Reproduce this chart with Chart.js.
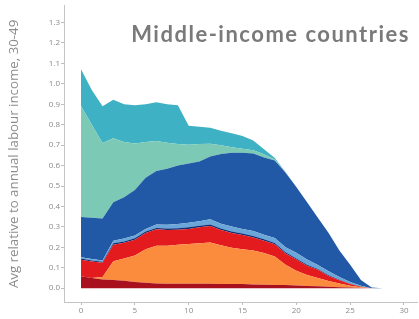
<!DOCTYPE html>
<html>
<head>
<meta charset="utf-8">
<script src="https://cdn.jsdelivr.net/npm/chart.js@4"></script>
<style>
  body { margin: 0; background: #fff; }
  #wrap { position: relative; width: 419px; height: 319px; }
</style>
</head>
<body>
<div id="wrap"><canvas id="income-chart" width="419" height="319"></canvas></div>
<script>
// age (years since start) and the stacked layers, bottom to top
const ages = [0, 1, 2, 3, 4, 5, 6, 7, 8, 9, 10, 11, 12, 13, 14, 15, 16, 17, 18, 19, 20, 21, 22, 23, 24, 25, 26, 27, 28, 29];

const darkRed   = [0.058, 0.05, 0.042, 0.04, 0.036, 0.03, 0.026, 0.023, 0.022, 0.022, 0.022, 0.022, 0.022, 0.021, 0.02, 0.02, 0.018, 0.017, 0.016, 0.015, 0.013, 0.011, 0.009, 0.007, 0.005, 0.003, 0.001, 0, 0, 0];
const orange    = [0, 0, 0.013, 0.092, 0.109, 0.13, 0.164, 0.185, 0.186, 0.19, 0.194, 0.198, 0.202, 0.189, 0.178, 0.17, 0.166, 0.155, 0.139, 0.1, 0.072, 0.054, 0.041, 0.028, 0.018, 0.009, 0.003, 0, 0, 0];
const red       = [0.081, 0.08, 0.069, 0.081, 0.077, 0.077, 0.08, 0.08, 0.077, 0.074, 0.074, 0.078, 0.08, 0.075, 0.072, 0.07, 0.064, 0.06, 0.06, 0.055, 0.055, 0.045, 0.04, 0.025, 0.016, 0.008, 0.003, 0, 0, 0];
const navy      = [0.006, 0.006, 0.005, 0.007, 0.007, 0.007, 0.007, 0.007, 0.007, 0.007, 0.008, 0.008, 0.008, 0.007, 0.007, 0.007, 0.007, 0.007, 0.006, 0.006, 0.005, 0.005, 0.004, 0.003, 0.002, 0.002, 0.001, 0, 0, 0];
const lightBlue = [0.006, 0.007, 0.006, 0.012, 0.014, 0.014, 0.013, 0.017, 0.018, 0.021, 0.022, 0.022, 0.025, 0.023, 0.025, 0.023, 0.025, 0.023, 0.024, 0.024, 0.028, 0.025, 0.019, 0.02, 0.014, 0.008, 0.004, 0, 0, 0];
const blue      = [0.197, 0.202, 0.206, 0.188, 0.202, 0.222, 0.25, 0.261, 0.275, 0.286, 0.29, 0.292, 0.308, 0.342, 0.361, 0.373, 0.379, 0.378, 0.38, 0.365, 0.322, 0.28, 0.232, 0.187, 0.129, 0.085, 0.028, 0.003, 0, 0];
const mint      = [0.544, 0.455, 0.369, 0.314, 0.271, 0.228, 0.175, 0.147, 0.127, 0.105, 0.092, 0.085, 0.062, 0.043, 0.027, 0.019, 0.016, 0.015, 0.005, 0.002, 0, 0, 0, 0, 0, 0, 0, 0, 0, 0];
const teal      = [0.18, 0.17, 0.18, 0.188, 0.184, 0.187, 0.185, 0.19, 0.188, 0.19, 0.093, 0.085, 0.078, 0.07, 0.068, 0.063, 0.048, 0.025, 0.007, 0.002, 0, 0, 0, 0, 0, 0, 0, 0, 0, 0];

const yTicks = [0, 0.1, 0.2, 0.3, 0.4, 0.5, 0.6, 0.7, 0.8, 0.9, 1.0, 1.1, 1.2, 1.3];
const xTicks = [0, 5, 10, 15, 20, 25, 30];

const layers = [
    { data: darkRed,   color: '#a8101d' },
    { data: orange,    color: '#fb8b3d' },
    { data: red,       color: '#e31b1f' },
    { data: navy,      color: '#0c2f78' },
    { data: lightBlue, color: '#6aa6d8' },
    { data: blue,      color: '#2159a6' },
    { data: mint,      color: '#7ccab6' },
    { data: teal,      color: '#3eb1c4' }
];

let datasets = layers.map(function (layer, i) {
    return {
        data: ages.map(function (a, j) { return { x: a, y: layer.data[j] }; }),
        backgroundColor: layer.color,
        borderWidth: 0,
        pointRadius: 0,
        tension: 0,
        fill: i === 0 ? 'origin' : '-1'
    };
});

let titlePlugin = {
    id: 'cornerTitle',
    afterDraw: function (chart) {
        let ctx = chart.ctx;
        ctx.save();
        ctx.font = 'bold 22px Lato';
        ctx.letterSpacing = '1.5px';
        ctx.fillStyle = '#7a7a7a';
        ctx.textAlign = 'right';
        ctx.textBaseline = 'alphabetic';
        ctx.fillText('Middle-income countries', 410, 42);
        ctx.restore();
    }
};

let tickFont = { family: 'Open Sans', size: 8 };

new Chart(document.getElementById('income-chart').getContext('2d'), {
    type: 'line',
    data: { datasets: datasets },
    plugins: [titlePlugin],
    options: {
        responsive: false,
        animation: false,
        layout: { padding: { top: 2, right: 2, left: 0, bottom: 0 } },
        plugins: { legend: { display: false }, tooltip: { enabled: false } },
        scales: {
            x: {
                type: 'linear',
                min: -1.58,
                max: 31.21,
                afterBuildTicks: function (scale) {
                    scale.ticks = xTicks.map(function (v) { return { value: v }; });
                },
                afterFit: function (scale) { scale.height = 17; },
                grid: { drawOnChartArea: false, drawTicks: true, tickLength: 3, color: '#bdbdbd' },
                border: { display: true, color: '#c4c4c4', width: 1 },
                ticks: { font: tickFont, color: '#8a8a8a', padding: 1, maxRotation: 0 }
            },
            y: {
                stacked: true,
                min: -0.0677,
                max: 1.382,
                afterBuildTicks: function (scale) {
                    scale.ticks = yTicks.map(function (v) { return { value: v }; });
                },
                afterFit: function (scale) { scale.width = 64; },
                grid: { drawOnChartArea: false, drawTicks: true, tickLength: 3, color: '#bdbdbd' },
                border: { display: true, color: '#c4c4c4', width: 1 },
                ticks: {
                    font: tickFont, color: '#8a8a8a', padding: 1,
                    callback: function (v) { return v.toFixed(1); }
                },
                title: {
                    display: true,
                    text: 'Avg relative to annual labour income, 30-49',
                    font: { family: 'Open Sans', size: 13.3 },
                    color: '#8c8c8c',
                    padding: { top: 6, bottom: 0 }
                }
            }
        }
    }
});
</script>
</body>
</html>
